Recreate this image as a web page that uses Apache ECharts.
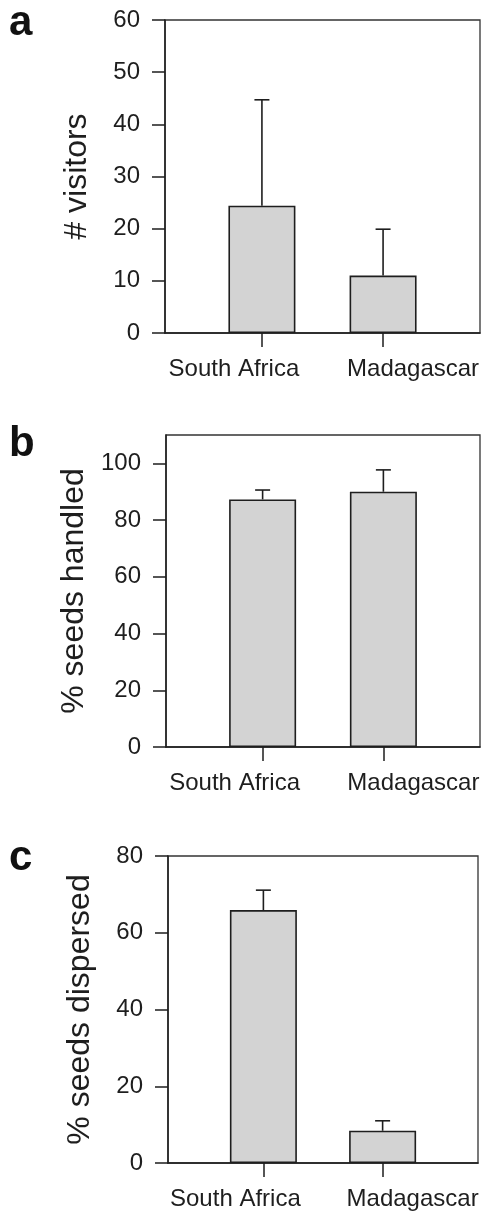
<!DOCTYPE html>
<html>
<head>
<meta charset="utf-8">
<script src="https://cdn.jsdelivr.net/npm/echarts@6/dist/echarts.min.js"></script>
<style>
html,body{margin:0;padding:0;background:#fff;}
#chart{width:486px;height:1211px;}
</style>
</head>
<body>
<div id="chart"></div>
<script>
// ---- data ----
const categories = ['South Africa', 'Madagascar'];
const panelLetters = ['a', 'b', 'c'];
const yTitles = ['# visitors', '% seeds handled', '% seeds dispersed'];
const visitorsMean = [24.4, 11.0];
const visitorsUpper = [44.7, 19.9];
const handledMean = [87.3, 90.0];
const handledUpper = [90.6, 97.7];
const dispersedMean = [65.9, 8.4];
const dispersedUpper = [71.1, 11.0];
const ticksA = [0, 10, 20, 30, 40, 50, 60];
const ticksB = [0, 20, 40, 60, 80, 100];
const ticksC = [0, 20, 40, 60, 80];
const yMax = [60, 110, 80];
const yInterval = [10, 20, 20];

// ---- layout / style ----
const FONT = "'Liberation Sans', Arial, Helvetica, sans-serif";
const INK = '#1e1e1e';
const grids = [
  {left: 165, top: 20, width: 315, height: 313},
  {left: 166, top: 435, width: 314, height: 312},
  {left: 168, top: 856, width: 310, height: 307}
];
const letterTops = [2, 423, 837];
const means = [visitorsMean, handledMean, dispersedMean];
const uppers = [visitorsUpper, handledUpper, dispersedUpper];
const ticks = [ticksA, ticksB, ticksC];
const catIdx = categories.map((c, i) => i);

const option = {
  animation: false,
  backgroundColor: '#fff',
  title: panelLetters.map((t, i) => ({
    text: t, left: 9, top: letterTops[i], padding: 0,
    textStyle: {fontFamily: FONT, fontWeight: 'bold', fontSize: 42, color: '#111'}
  })),
  grid: grids.map(g => Object.assign({
    show: true, borderColor: '#333', borderWidth: 1.3, backgroundColor: 'transparent'
  }, g)),
  xAxis: [],
  yAxis: [],
  series: []
};

grids.forEach((g, i) => {
  // main x axis: line, category ticks, first label
  option.xAxis.push({
    gridIndex: i, type: 'value', min: -0.8, max: 1.8, position: 'bottom',
    axisLine: {show: true, onZero: false, lineStyle: {color: INK, width: 1.5}},
    axisTick: {show: true, customValues: catIdx, length: 14, inside: false, lineStyle: {color: INK, width: 1.5}},
    axisLabel: {
      customValues: [0], formatter: v => categories[Math.round(v)],
      margin: 24, fontSize: 24, fontFamily: FONT, color: INK, padding: [0, 56, 0, 0]
    },
    splitLine: {show: false}
  });
  // secondary x axis: second label only
  option.xAxis.push({
    gridIndex: i, type: 'value', min: -0.8, max: 1.8, position: 'bottom',
    axisLine: {show: false, onZero: false}, axisTick: {show: false},
    axisLabel: {
      customValues: [1], formatter: v => categories[Math.round(v)],
      margin: 24, fontSize: 24, fontFamily: FONT, color: INK, padding: [0, 0, 0, 60]
    },
    splitLine: {show: false}
  });
  option.yAxis.push({
    gridIndex: i, type: 'value', min: 0, max: yMax[i], interval: yInterval[i],
    position: 'left',
    name: yTitles[i], nameLocation: 'middle', nameRotate: 90, nameGap: 72,
    nameTextStyle: {fontFamily: FONT, fontSize: 32, color: INK},
    axisLine: {show: true, onZero: false, lineStyle: {color: INK, width: 1.5}},
    axisTick: {show: true, customValues: ticks[i], length: 13, inside: false, lineStyle: {color: INK, width: 1.5}},
    axisLabel: {customValues: ticks[i], margin: 25, fontSize: 24, fontFamily: FONT, color: INK},
    splitLine: {show: false}
  });
  option.series.push({
    type: 'bar', xAxisIndex: i * 2, yAxisIndex: i, barWidth: 67,
    data: means[i].map((v, k) => [k, v]),
    itemStyle: {color: '#d3d3d3', borderColor: INK, borderWidth: 1.6},
    z: 2
  });
  option.series.push({
    type: 'custom', xAxisIndex: i * 2, yAxisIndex: i, z: 3,
    data: means[i].map((v, k) => [k, v, uppers[i][k]]),
    renderItem: function (params, api) {
      const x = api.value(0);
      const p0 = api.coord([x, api.value(1)]);
      const p1 = api.coord([x, api.value(2)]);
      const st = {stroke: INK, lineWidth: 1.6};
      return {type: 'group', children: [
        {type: 'line', shape: {x1: p0[0], y1: p0[1], x2: p1[0], y2: p1[1]}, style: st},
        {type: 'line', shape: {x1: p1[0] - 7.5, y1: p1[1], x2: p1[0] + 7.5, y2: p1[1]}, style: st}
      ]};
    }
  });
});

const chart = echarts.init(document.getElementById('chart'), null, {renderer: 'canvas'});
chart.setOption(option);
</script>
</body>
</html>
